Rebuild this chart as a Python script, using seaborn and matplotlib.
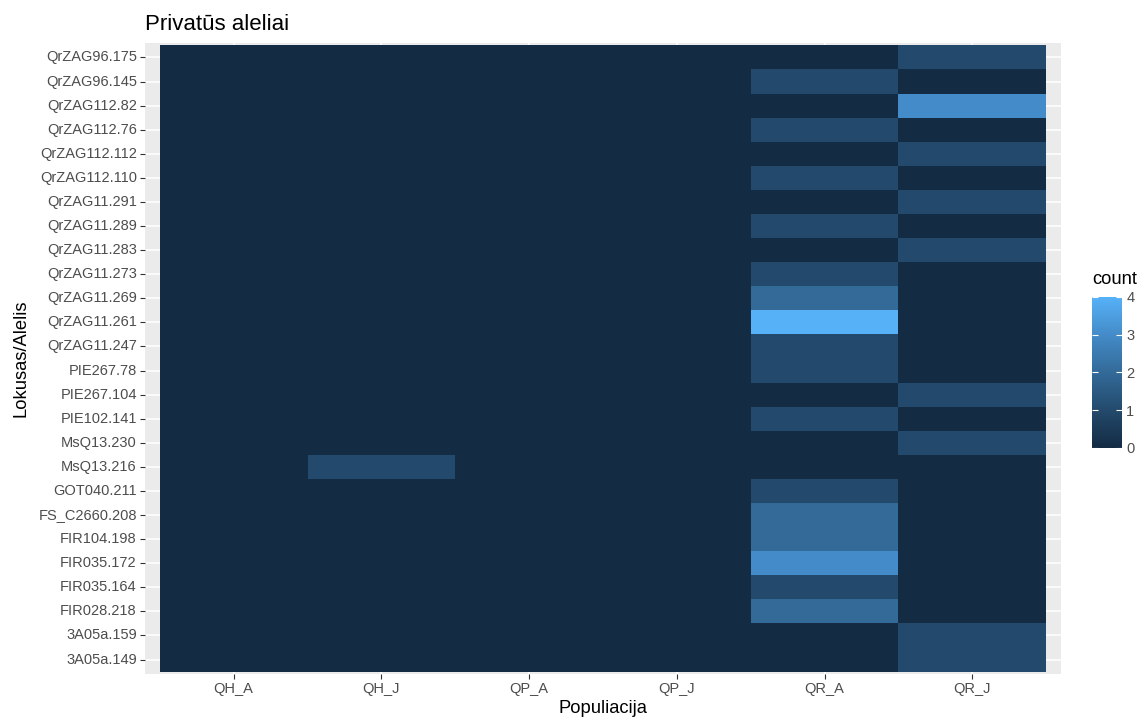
import numpy as np
import pandas as pd
import matplotlib
matplotlib.use("Agg")
import matplotlib.pyplot as plt
from matplotlib.colors import LinearSegmentedColormap
import seaborn as sns

# === Data ===
alleles = [
    "QrZAG96.175", "QrZAG96.145", "QrZAG112.82", "QrZAG112.76", "QrZAG112.112",
    "QrZAG112.110", "QrZAG11.291", "QrZAG11.289", "QrZAG11.283", "QrZAG11.273",
    "QrZAG11.269", "QrZAG11.261", "QrZAG11.247", "PIE267.78", "PIE267.104",
    "PIE102.141", "MsQ13.230", "MsQ13.216", "GOT040.211", "FS_C2660.208",
    "FIR104.198", "FIR035.172", "FIR035.164", "FIR028.218", "3A05a.159", "3A05a.149",
]
populations = ["QH_A", "QH_J", "QP_A", "QP_J", "QR_A", "QR_J"]

qh_a = [0] * 26
qh_j = [0] * 17 + [1] + [0] * 8
qp_a = [0] * 26
qp_j = [0] * 26
qr_a = [0, 1, 0, 1, 0, 1, 0, 1, 0, 1, 2, 4, 1, 1, 0, 1, 0, 0, 1, 2, 2, 3, 1, 2, 0, 0]
qr_j = [1, 0, 3, 0, 1, 0, 1, 0, 1, 0, 0, 0, 0, 0, 1, 0, 1, 0, 0, 0, 0, 0, 0, 0, 1, 1]

df = pd.DataFrame({"QH_A": qh_a, "QH_J": qh_j, "QP_A": qp_a,
                   "QP_J": qp_j, "QR_A": qr_a, "QR_J": qr_j}, index=alleles)
df = df[populations]

# ggplot default continuous fill (#132B43 -> #56B1F7)
cmap = LinearSegmentedColormap.from_list(
    "gg", ["#132B43", "#234A6C", "#336A98", "#448BC8", "#56B1F7"])

plt.rcParams["font.family"] = ["Liberation Sans", "DejaVu Sans"]

fig = plt.figure(figsize=(11.42, 7.22), dpi=100)
ax = fig.add_axes([145 / 1142, 1 - 674 / 722, (1061 - 145) / 1142, (674 - 43) / 722])
cax = fig.add_axes([1092 / 1142, 1 - 448 / 722, 30 / 1142, 151 / 722])

ax.set_facecolor("#EBEBEB")

sns.heatmap(df, ax=ax, cbar_ax=cax, cmap=cmap, vmin=0, vmax=4,
            cbar_kws={"ticks": [0, 1, 2, 3, 4]})

ax.set_xlim(-0.1, len(populations) + 0.1)
ax.set_ylim(len(alleles) + 0.1, -0.1)
for s in ax.spines.values():
    s.set_visible(False)
ax.grid(True, color="white", linewidth=1.1)
ax.set_axisbelow(True)

ax.tick_params(axis="both", length=3.4, width=0.8, color="#333333",
               labelcolor="#4D4D4D", labelsize=10.5, pad=2.5)
plt.setp(ax.get_yticklabels(), rotation=0)
plt.setp(ax.get_xticklabels(), rotation=0)

ax.set_xlabel("Populiacija", fontsize=13.2, color="black", labelpad=3)
ax.set_ylabel("Lokusas/Alelis", fontsize=13.2, color="black", labelpad=6)
ax.set_title("Privatūs aleliai", loc="left", fontsize=16, pad=9)

# colorbar styled like ggplot's guide
cbar = ax.collections[0].colorbar
cbar.outline.set_visible(False)
cax.tick_params(axis="y", direction="in", color="white", length=4.3, width=0.8,
                left=True, right=True, labelright=True, labelleft=False,
                labelcolor="#4D4D4D", labelsize=10.5, pad=3)
cax.set_title("count", loc="left", fontsize=13.2, pad=9)

fig.savefig("out.png", dpi=100, facecolor="white")
